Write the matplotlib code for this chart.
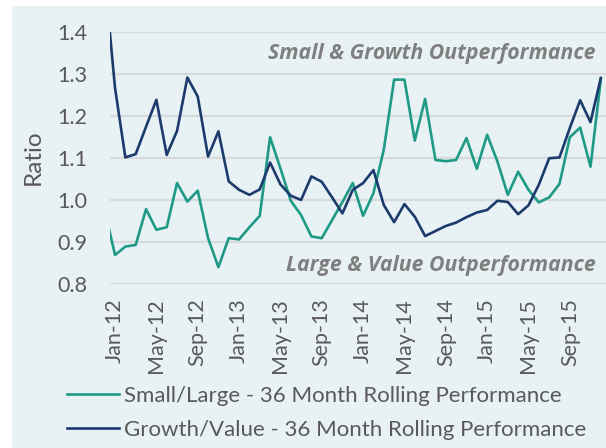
import matplotlib.pyplot as plt
from matplotlib.patches import Rectangle

# monthly ratios, Dec-11 .. Dec-15
months = ['Dec-11',
          'Jan-12', 'Feb-12', 'Mar-12', 'Apr-12', 'May-12', 'Jun-12', 'Jul-12', 'Aug-12', 'Sep-12', 'Oct-12', 'Nov-12', 'Dec-12',
          'Jan-13', 'Feb-13', 'Mar-13', 'Apr-13', 'May-13', 'Jun-13', 'Jul-13', 'Aug-13', 'Sep-13', 'Oct-13', 'Nov-13', 'Dec-13',
          'Jan-14', 'Feb-14', 'Mar-14', 'Apr-14', 'May-14', 'Jun-14', 'Jul-14', 'Aug-14', 'Sep-14', 'Oct-14', 'Nov-14', 'Dec-14',
          'Jan-15', 'Feb-15', 'Mar-15', 'Apr-15', 'May-15', 'Jun-15', 'Jul-15', 'Aug-15', 'Sep-15', 'Oct-15', 'Nov-15', 'Dec-15']

small_large = [0.975,
               0.869, 0.889, 0.893, 0.978, 0.929, 0.935, 1.040, 0.996, 1.022, 0.909, 0.840, 0.909,
               0.906, 0.935, 0.962, 1.149, 1.075, 0.998, 0.964, 0.913, 0.909, 0.952, 0.995, 1.040,
               0.962, 1.016, 1.119, 1.286, 1.286, 1.141, 1.240, 1.095, 1.092, 1.095, 1.147, 1.074,
               1.155, 1.091, 1.012, 1.067, 1.024, 0.994, 1.006, 1.038, 1.149, 1.172, 1.079, 1.287]

growth_value = [1.53,
                1.266, 1.101, 1.109, 1.174, 1.238, 1.107, 1.164, 1.291, 1.246, 1.103, 1.163, 1.044,
                1.024, 1.012, 1.025, 1.089, 1.037, 1.010, 1.000, 1.056, 1.043, 1.006, 0.968, 1.024,
                1.040, 1.071, 0.988, 0.947, 0.990, 0.960, 0.914, 0.926, 0.938, 0.946, 0.959, 0.970,
                0.976, 0.998, 0.995, 0.966, 0.987, 1.036, 1.099, 1.101, 1.171, 1.237, 1.185, 1.290]

tick_labels = ['Jan-12', 'May-12', 'Sep-12', 'Jan-13', 'May-13', 'Sep-13',
               'Jan-14', 'May-14', 'Sep-14', 'Jan-15', 'May-15', 'Sep-15']

plt.rcParams['font.family'] = ['Lato', 'DejaVu Sans']

bg = '#E8F1F4'
txt = '#595959'
green = '#1F9A86'
navy = '#1C3B6C'

fig = plt.figure(figsize=(6.06, 4.48), dpi=100, facecolor='white')
fig.patches.append(Rectangle((12 / 606, 0), 1, 1 - 6 / 448, transform=fig.transFigure,
                             facecolor=bg, edgecolor='none', zorder=-10))

ax = fig.add_axes([109.5 / 606, 1 - 284 / 448, 1 - 109.5 / 606, (284 - 31.7) / 448])
ax.set_facecolor('none')

x = range(len(months))
ax.plot(x, small_large, color=green, linewidth=1.9, label='Small/Large - 36 Month Rolling Performance')
ax.plot(x, growth_value, color=navy, linewidth=1.9, label='Growth/Value - 36 Month Rolling Performance')

ax.set_xlim(0.465, 48.5)
ax.set_ylim(0.8, 1.4)
ax.set_yticks([0.8, 0.9, 1.0, 1.1, 1.2, 1.3, 1.4])
ax.set_yticklabels(['0.8', '0.9', '1.0', '1.1', '1.2', '1.3', '1.4'])
ax.set_xticks([months.index(t) for t in tick_labels])
ax.set_xticklabels(tick_labels, rotation=90)
ax.tick_params(length=0, labelsize=15.5, labelcolor=txt)
ax.tick_params(axis='y', pad=16)
ax.tick_params(axis='x', pad=10)
ax.grid(axis='y', color='#D6DADC', linewidth=1.6)
ax.set_axisbelow(True)
for s in ax.spines.values():
    s.set_visible(False)

fig.text(33 / 606, 1 - 157 / 448, 'Ratio', rotation=90, ha='center', va='center',
         fontsize=17.5, color=txt)

fig.text(596 / 606, 1 - 53 / 448, 'Small & Growth Outperformance', ha='right', va='center',
         fontsize=15.3, color='#7F7F7F', fontweight='bold', style='italic', family='Open Sans')
fig.text(596 / 606, 1 - 266 / 448, 'Large & Value Outperformance', ha='right', va='center',
         fontsize=15.3, color='#7F7F7F', fontweight='bold', style='italic', family='Open Sans')

leg = fig.legend(loc='center left', bbox_to_anchor=(67 / 606, 1 - 413 / 448), frameon=False,
                 fontsize=16, handlelength=2.35, handletextpad=0.22, labelspacing=0.62,
                 borderaxespad=0, borderpad=0)
for t in leg.get_texts():
    t.set_color(txt)

fig.savefig('out.png', dpi=100, facecolor=fig.get_facecolor())
